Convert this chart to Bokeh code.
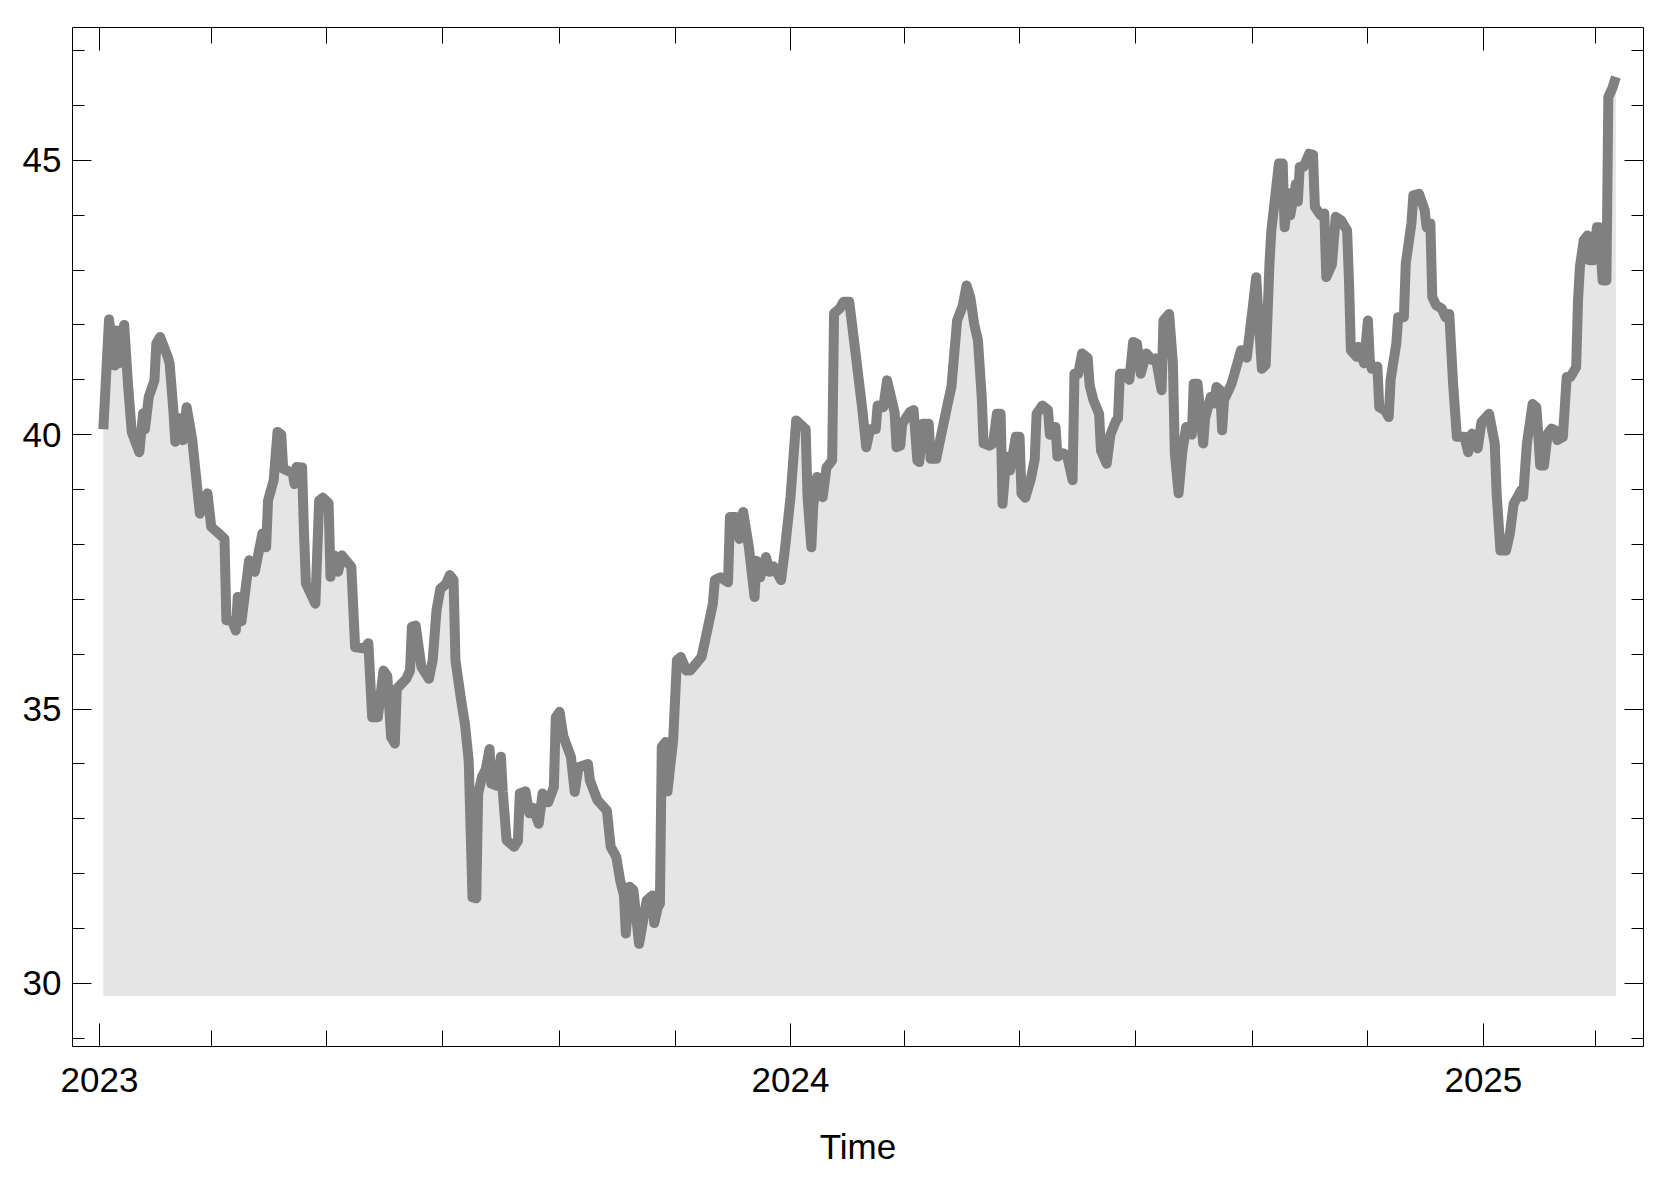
import pandas as pd
from bokeh.plotting import figure
from bokeh.models import (Range1d, FixedTicker, LinearAxis, DatetimeAxis,
                          ColumnDataSource, CustomJSTickFormatter)
from bokeh.embed import file_html
from bokeh.resources import INLINE

# ---------------- data ----------------
START = "2023-01-01"
# calendar days since START for each observation
days_since_start = [
    2, 5, 8, 9, 10, 12, 13, 15, 17, 21,
    23, 24, 26, 29, 30, 32, 36, 37, 39, 40,
    42, 44, 46, 49, 51, 53, 57, 59, 63, 66,
    67, 70, 72, 73, 75, 79, 82, 86, 88, 89,
    92, 94, 96, 97, 102, 103, 104, 107, 108, 109,
    114, 116, 118, 121, 122, 124, 126, 128, 133, 135,
    140, 142, 144, 147, 150, 152, 154, 156,
    157, 162, 164, 165, 167, 170, 174, 176, 178, 180,
    183, 185, 187, 188, 191, 193, 195, 197, 199, 200,
    202, 204, 206, 207, 210, 212, 213, 215, 219, 221,
    222, 225, 227, 229, 232, 234, 237, 240, 241, 243,
    245, 249, 251, 253, 258, 259, 263, 268, 270, 273,
    275, 277, 278, 280, 282, 285, 289, 292, 293, 295,
    296, 297, 299, 300, 303, 305, 307, 310,
    312, 318, 321, 324, 325, 328, 332, 333, 336, 338,
    340, 343, 346, 347, 349, 352, 354, 356, 360, 362,
    365, 368, 373, 374, 376, 377, 379, 382, 384, 387,
    388, 391, 393, 396, 397, 400, 403, 405, 407, 410,
    411, 414, 416, 418, 420, 421, 423, 424, 428, 430,
    432, 433, 435, 438, 439, 442, 444, 448, 450, 453,
    456, 458, 460, 462, 464, 466, 467, 470, 472, 474,
    476, 477, 479, 481, 484, 486, 487, 489, 492, 494,
    495, 498, 501, 502, 505, 506, 509, 511, 514, 515,
    517, 519, 522, 523, 525, 528, 529, 532, 534, 537,
    538, 539, 542, 544, 546, 548, 550, 553, 556, 558,
    561, 562, 565, 567, 568, 570, 572, 574, 577, 578,
    580, 583, 584, 587, 589, 590, 592, 593, 594, 598,
    600,
    603, 606, 609, 611, 612, 614, 616, 618, 619, 621,
    623, 625, 626, 628, 629, 632, 633, 634, 636, 639,
    641, 642, 645, 647, 648, 651, 653, 656, 659, 660,
    661, 664, 665, 668, 670, 671, 672, 675, 676, 679,
    681, 682, 685, 686, 689, 690, 693, 694, 697, 700,
    701, 703, 704, 706, 709, 711, 713, 715, 717, 721,
    723, 725,
    728, 730, 734, 737, 738, 740, 743, 745, 747, 751,
    752, 754, 757, 759, 760, 761, 763, 765, 767, 769,
    770, 773, 774, 775, 777, 780, 781, 782, 784, 786,
    787, 789, 791, 792, 794, 796, 797, 799, 801,
]
price = [
    40.1, 42.1, 41.26, 41.9, 41.3, 41.8, 42.0, 40.93, 40.05, 39.68,
    40.39, 40.1, 40.69, 40.99, 41.66, 41.78, 41.42, 41.3, 40.44, 39.87,
    40.3, 39.9, 40.5, 39.9, 39.23, 38.56, 38.93, 38.32, 38.2, 38.1,
    36.62, 36.6, 36.43, 37.04, 36.6, 37.71, 37.5, 38.2, 37.95, 38.8,
    39.17, 40.05, 40.0, 39.38, 39.3, 39.1, 39.41, 39.4, 38.2, 37.29,
    36.92, 38.8, 38.85, 38.75, 37.41, 37.8, 37.5, 37.8, 37.59, 36.13,
    36.1, 36.2, 34.85, 34.85, 35.7, 35.6, 34.49, 34.37,
    35.37, 35.55, 35.7, 36.5, 36.52, 35.77, 35.55, 35.9, 36.8, 37.19,
    37.28, 37.44, 37.35, 35.89, 35.16, 34.73, 34.06, 31.57, 31.55, 33.46,
    33.76, 33.9, 34.27, 33.64, 33.6, 34.13, 33.5, 32.61, 32.49, 32.6,
    33.46, 33.5, 33.1, 33.2, 32.91, 33.46, 33.3, 33.58, 34.85, 34.95,
    34.5, 34.13, 33.49, 33.94, 34.0, 33.7, 33.34, 33.15, 32.49, 32.3,
    31.88, 31.6, 30.91, 31.76, 31.7, 30.72, 31.51, 31.6, 31.1, 31.4,
    31.45, 34.31, 34.4, 33.5, 34.43, 35.89, 35.95, 35.7,
    35.7, 35.95, 36.43, 36.92, 37.35, 37.4, 37.31, 38.5, 38.5, 38.1,
    38.59, 37.95, 37.04, 37.7, 37.4, 37.77, 37.5, 37.6, 37.35, 37.9,
    38.86, 40.26, 40.1, 38.86, 37.95, 38.7, 39.23, 38.86, 39.4, 39.53,
    42.21, 42.3, 42.42, 42.42, 42.15, 41.3, 40.44, 39.77, 40.1, 40.1,
    40.53, 40.5, 40.99, 40.7, 40.4, 39.77, 39.8, 40.2, 40.41, 40.45,
    39.53, 39.5, 40.2, 40.2, 39.56, 39.56, 39.9, 40.56, 40.87, 42.08,
    42.35, 42.72, 42.5, 42.02, 41.72, 40.69, 39.84, 39.8, 39.84, 40.38,
    40.38, 38.74, 39.6, 39.35, 39.96, 39.96, 38.93, 38.85, 39.2, 39.55,
    40.38, 40.53, 40.45, 40.0, 40.14, 39.6, 39.66, 39.63, 39.17, 41.11,
    41.11, 41.48, 41.4, 40.9, 40.63, 40.38, 39.71, 39.47, 40.0, 40.26,
    40.3, 41.11, 41.11, 41.0, 41.69, 41.66, 41.11, 41.48, 41.36, 41.39,
    40.81, 42.08, 42.2, 41.3, 39.66, 38.93, 39.7, 40.14, 40.0, 40.93,
    40.93, 39.84, 40.3, 40.69, 40.57, 40.87, 40.81, 40.08, 40.63, 40.93,
    41.17,
    41.54, 41.4, 42.27, 42.87, 42.27, 41.2, 41.27, 43.12, 43.72, 44.33,
    44.94, 44.94, 43.78, 44.4, 44.0, 44.57, 44.25, 44.88, 44.88, 45.12,
    45.1, 44.15, 44.0, 44.03, 42.87, 43.1, 43.97, 43.9, 43.72, 42.81,
    41.54, 41.42, 41.6, 41.3, 42.08, 41.36, 41.2, 41.24, 40.5, 40.44,
    40.32, 41.0, 41.66, 42.14, 42.14, 43.12, 43.85, 44.36, 44.39, 44.09,
    43.78, 43.85, 42.51, 42.36, 42.3, 42.14, 42.2, 40.93, 39.96, 39.96,
    39.68, 40.02,
    39.75, 40.23, 40.38, 39.84, 38.93, 37.89, 37.89, 38.2, 38.74, 38.99,
    38.87, 39.84, 40.56, 40.5, 40.0, 39.44, 39.44, 40.02, 40.11, 40.08,
    39.9, 39.96, 40.5, 41.05, 41.05, 41.23, 42.45, 43.06, 43.54, 43.63,
    43.18, 43.18, 43.78, 43.78, 42.81, 42.81, 46.15, 46.3, 46.52,
]
fill_floor = 29.77

y_major_ticks = [30, 35, 40, 45]
y_minor_ticks = list(range(29, 48))
x_major_ticks = ["2023-01-01", "2024-01-01", "2025-01-01"]
x_minor_ticks = ["2023-03-01", "2023-05-01", "2023-07-01", "2023-09-01",
                 "2023-11-01", "2024-01-01", "2024-03-01", "2024-05-01",
                 "2024-07-01", "2024-09-01", "2024-11-01", "2025-01-01",
                 "2025-03-01"]
x_label = "Time"

# ---------------- build ----------------
assert len(days_since_start) == len(price)
dates = pd.Timestamp(START) + pd.to_timedelta(days_since_start, unit="D")
src = ColumnDataSource(dict(date=dates, price=price,
                            floor=[fill_floor] * len(price)))


def ms(s):
    return pd.Timestamp(s).value / 1e6


FONT = "Liberation Sans"
FS = "35px"

p = figure(width=1656, height=1173, x_axis_type="datetime",
           x_range=Range1d(pd.Timestamp("2022-12-17 17:00"),
                           pd.Timestamp("2025-03-26 14:00")),
           y_range=Range1d(28.85, 47.42),
           output_backend="svg", toolbar_location=None,
           min_border_left=72, min_border_right=13,
           min_border_top=27, min_border_bottom=127,
           background_fill_color="white", border_fill_color="white",
           outline_line_color="black", outline_line_width=1)
p.xgrid.visible = False
p.ygrid.visible = False

p.varea(x="date", y1="floor", y2="price", source=src,
        fill_color="#e5e5e5", fill_alpha=1.0)
p.line(x="date", y="price", source=src, line_color="#808080",
       line_width=10, line_join="round")

xt = FixedTicker(ticks=[ms(d) for d in x_major_ticks],
                 minor_ticks=[ms(d) for d in x_minor_ticks])
yt = FixedTicker(ticks=y_major_ticks, minor_ticks=y_minor_ticks)
year_fmt = CustomJSTickFormatter(
    code="return String(new Date(tick).getUTCFullYear());")
blank_fmt = CustomJSTickFormatter(code="return '';")


def style(ax, tick_in, minor_in):
    ax.axis_line_color = None
    ax.major_tick_in = tick_in
    ax.major_tick_out = 0
    ax.minor_tick_in = minor_in
    ax.minor_tick_out = 0
    ax.major_tick_line_color = "black"
    ax.minor_tick_line_color = "black"
    ax.major_tick_line_width = 1
    ax.minor_tick_line_width = 1
    ax.major_label_text_font = FONT
    ax.major_label_text_font_size = FS
    ax.major_label_text_color = "black"


bottom = p.xaxis[0]
bottom.ticker = xt
bottom.formatter = year_fmt
style(bottom, 23, 16)
bottom.major_label_standoff = 21
bottom.axis_label = x_label
bottom.axis_label_text_font = FONT
bottom.axis_label_text_font_size = FS
bottom.axis_label_text_font_style = "normal"
bottom.axis_label_text_color = "black"
bottom.axis_label_standoff = 32

left = p.yaxis[0]
left.ticker = yt
style(left, 19, 12)
left.major_label_standoff = 11

# mirrored tick marks on the top and right edges (no labels)
top = DatetimeAxis(ticker=xt, formatter=blank_fmt)
style(top, 23, 16)
top.major_label_standoff = 0
p.add_layout(top, "above")

right = LinearAxis(ticker=yt, formatter=blank_fmt)
style(right, 19, 12)
right.major_label_standoff = 0
p.add_layout(right, "right")

open("out.html", "w").write(file_html(p, INLINE))
